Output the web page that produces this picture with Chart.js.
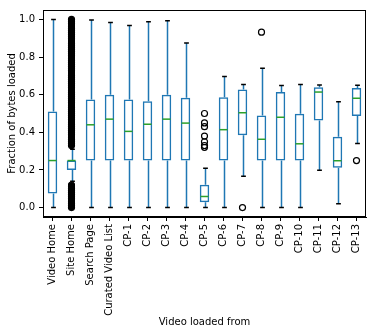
<!DOCTYPE html>
<html>
<head>
<meta charset="utf-8">
<script src="https://cdn.jsdelivr.net/npm/chart.js@4.4.1/dist/chart.umd.min.js"></script>
<style>
    body { margin: 0; background: #fff; }
    canvas { display: block; }
</style>
</head>
<body>
<canvas id="boxChart" width="374" height="334"></canvas>
<script>
// Box plot data
const categories = ['Video Home', 'Site Home', 'Search Page', 'Curated Video List',
    'CP-1', 'CP-2', 'CP-3', 'CP-4', 'CP-5', 'CP-6', 'CP-7', 'CP-8', 'CP-9', 'CP-10', 'CP-11', 'CP-12', 'CP-13'];
const whiskerLow = [0, 0.14, 0, 0, 0, 0, 0, 0, 0, 0, 0.167, 0, 0, 0, 0.198, 0.021, 0.341];
const q1 = [0.075, 0.20, 0.25, 0.25, 0.25, 0.25, 0.25, 0.25, 0.028, 0.25, 0.384, 0.25, 0.25, 0.25, 0.463, 0.212, 0.487];
const medians = [0.25, 0.25, 0.44, 0.47, 0.405, 0.443, 0.47, 0.449, 0.059, 0.414, 0.504, 0.363, 0.48, 0.339, 0.614, 0.249, 0.581];
const q3 = [0.51, 0.25, 0.574, 0.60, 0.574, 0.565, 0.60, 0.584, 0.122, 0.586, 0.628, 0.489, 0.614, 0.499, 0.64, 0.376, 0.635];
const whiskerHigh = [1.0, 0.31, 0.997, 0.983, 0.967, 0.988, 0.993, 0.875, 0.209, 0.697, 0.654, 0.741, 0.649, 0.654, 0.652, 0.563, 0.65];

// Outliers per category (Site Home is a dense band of points)
const outliers = [
    [],
    [0.0, 0.01, 0.02, 0.03, 0.04, 0.05, 0.06, 0.07, 0.08, 0.09, 0.10, 0.11, 0.12,
     0.33, 0.34, 0.35, 0.36, 0.37, 0.38, 0.39, 0.40, 0.41, 0.42, 0.43, 0.44, 0.45, 0.46, 0.47, 0.48, 0.49,
     0.50, 0.51, 0.52, 0.53, 0.54, 0.55, 0.56, 0.57, 0.58, 0.59, 0.60, 0.61, 0.62, 0.63, 0.64, 0.65, 0.66,
     0.67, 0.68, 0.69, 0.70, 0.71, 0.72, 0.73, 0.74, 0.75, 0.76, 0.77, 0.78, 0.79, 0.80, 0.81, 0.82, 0.83,
     0.84, 0.85, 0.86, 0.87, 0.88, 0.89, 0.90, 0.91, 0.92, 0.93, 0.94, 0.95, 0.96, 0.97, 0.98, 0.99, 1.0],
    [], [], [], [], [], [],
    [0.50, 0.45, 0.43, 0.38, 0.35, 0.33, 0.32],
    [],
    [0.0],
    [0.932],
    [], [], [], [],
    [0.25]
];
const yTicks = [0.0, 0.2, 0.4, 0.6, 0.8, 1.0];

const BLUE = '#1f77b4';
const GREEN = '#2ca02c';

Chart.defaults.font.family = 'DejaVu Sans';
Chart.defaults.font.size = 10;
Chart.defaults.color = '#000';

const outlierPoints = [];
outliers.forEach((list, i) => list.forEach(v => outlierPoints.push({ x: categories[i], y: v })));

// Whiskers, caps, medians and the frame around the plot
const boxExtras = {
    id: 'boxExtras',
    beforeDatasetsDraw(chart) {
        const { ctx, scales: { x, y } } = chart;
        const half = (x.getPixelForValue(1) - x.getPixelForValue(0)) / 8;
        ctx.save();
        categories.forEach((c, i) => {
            const cx = Math.round(x.getPixelForValue(i)) + 0.5;
            ctx.strokeStyle = BLUE;
            ctx.lineWidth = 1.5;
            ctx.beginPath();
            ctx.moveTo(cx, y.getPixelForValue(q1[i]));
            ctx.lineTo(cx, y.getPixelForValue(whiskerLow[i]));
            ctx.moveTo(cx, y.getPixelForValue(q3[i]));
            ctx.lineTo(cx, y.getPixelForValue(whiskerHigh[i]));
            ctx.stroke();
            ctx.strokeStyle = '#000';
            ctx.beginPath();
            [whiskerLow[i], whiskerHigh[i]].forEach(v => {
                const py = y.getPixelForValue(v);
                ctx.moveTo(cx - half, py);
                ctx.lineTo(cx + half, py);
            });
            ctx.stroke();
        });
        ctx.restore();
    },
    afterDatasetsDraw(chart) {
        const { ctx, chartArea: a, scales: { x, y } } = chart;
        const half = (x.getPixelForValue(1) - x.getPixelForValue(0)) / 4;
        ctx.save();
        ctx.strokeStyle = GREEN;
        ctx.lineWidth = 1.5;
        categories.forEach((c, i) => {
            const cx = x.getPixelForValue(i);
            const py = y.getPixelForValue(medians[i]);
            ctx.beginPath();
            ctx.moveTo(cx - half + 0.75, py);
            ctx.lineTo(cx + half - 0.75, py);
            ctx.stroke();
        });
        ctx.strokeStyle = '#000';
        ctx.lineWidth = 1;
        ctx.strokeRect(Math.round(a.left) + 0.5, Math.round(a.top) + 0.5,
            Math.round(a.right - a.left) - 1, Math.round(a.bottom - a.top) - 1);
        ctx.restore();
    }
};

new Chart(document.getElementById('boxChart'), {
    type: 'bar',
    data: {
        labels: categories,
        datasets: [
            {
                type: 'bar',
                data: categories.map((c, i) => [q1[i], q3[i]]),
                backgroundColor: 'rgba(255,255,255,0)',
                borderColor: BLUE,
                borderWidth: 1.5,
                borderSkipped: false,
                barPercentage: 0.5,
                categoryPercentage: 1
            },
            {
                type: 'line',
                data: outlierPoints,
                showLine: false,
                pointRadius: 3,
                pointBorderWidth: 1.2,
                pointBorderColor: '#000',
                // the Site Home band is so dense it prints solid black
                pointBackgroundColor: c => (c.raw && c.raw.x === 'Site Home') ? '#000' : 'rgba(255,255,255,0)'
            }
        ]
    },
    options: {
        responsive: false,
        animation: false,
        devicePixelRatio: 1,
        layout: { padding: { left: 0, top: 7, right: 8, bottom: 6 } },
        plugins: { legend: { display: false }, tooltip: { enabled: false } },
        scales: {
            x: {
                grid: { drawOnChartArea: false, offset: false, tickLength: 4, color: '#000' },
                border: { color: '#000' },
                ticks: { autoSkip: false, maxRotation: 90, minRotation: 90, padding: 3 },
                title: { display: true, text: 'Video loaded from', padding: 0 },
                afterFit: s => { s.height = 111; }
            },
            y: {
                min: -0.05,
                max: 1.05,
                grid: { drawOnChartArea: false, tickLength: 4, color: '#000' },
                border: { color: '#000' },
                ticks: { padding: 4, callback: v => v.toFixed(1) },
                afterBuildTicks: s => { s.ticks = yTicks.map(v => ({ value: v })); },
                title: { display: true, text: 'Fraction of bytes loaded', padding: { top: 6 } },
                afterFit: s => { s.width = 43; }
            }
        }
    },
    plugins: [boxExtras]
});
</script>
</body>
</html>
